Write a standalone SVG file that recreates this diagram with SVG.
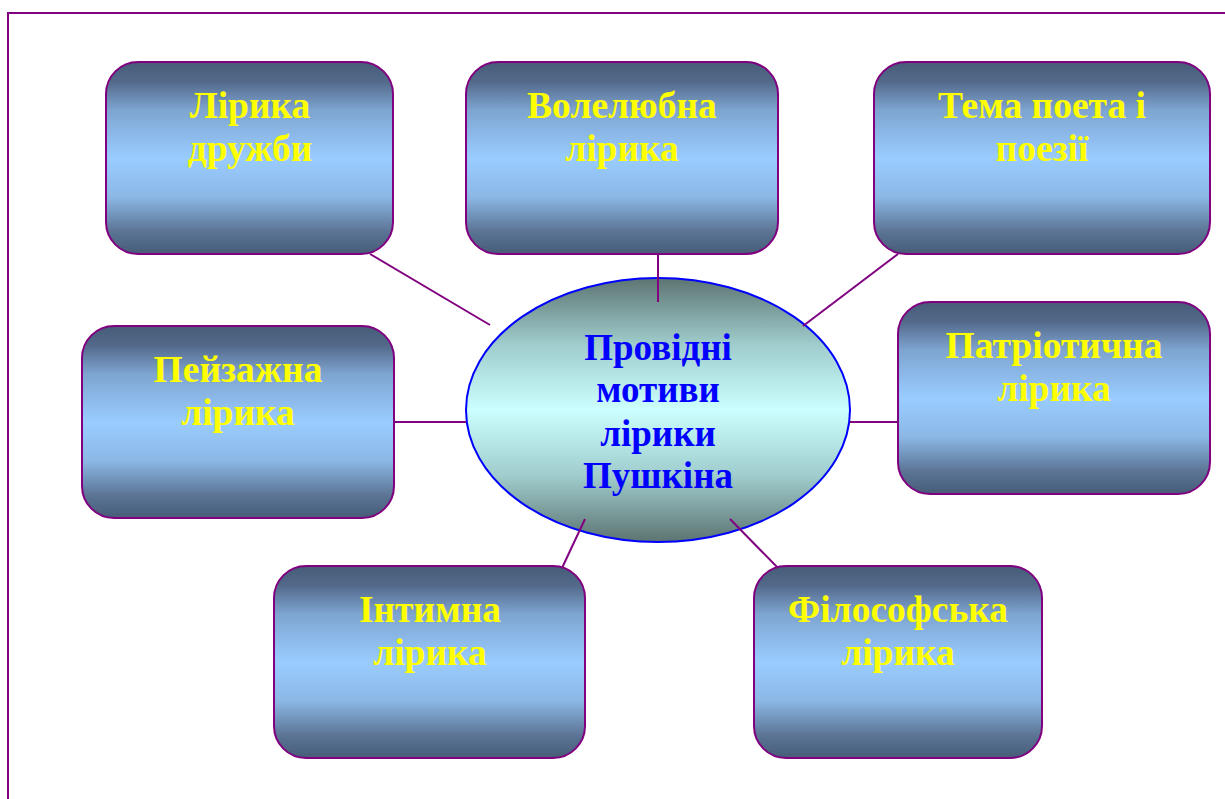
<svg xmlns="http://www.w3.org/2000/svg" width="1225" height="799" viewBox="0 0 1225 799">
<defs>
<linearGradient id="gb" x1="0" y1="0" x2="0" y2="1">
<stop offset="0" stop-color="#465c78"/>
<stop offset="0.1" stop-color="#52698a"/>
<stop offset="0.25" stop-color="#7ea4d0"/>
<stop offset="0.5" stop-color="#99ccff"/>
<stop offset="0.7" stop-color="#8cb8e6"/>
<stop offset="0.88" stop-color="#5c7596"/>
<stop offset="1" stop-color="#465c78"/>
</linearGradient>
<linearGradient id="ge" x1="0" y1="0" x2="0" y2="1">
<stop offset="0" stop-color="#5c7472"/>
<stop offset="0.25" stop-color="#9fcccc"/>
<stop offset="0.5" stop-color="#ccffff"/>
<stop offset="0.75" stop-color="#9fcccc"/>
<stop offset="1" stop-color="#5c7472"/>
</linearGradient>
<style>
.box{fill:url(#gb);stroke:#800080;stroke-width:2}
.t{font-family:"Liberation Serif","Times New Roman",serif;font-weight:bold;font-size:37.5px;fill:#ffff00;text-anchor:middle}
.c{font-family:"Liberation Serif","Times New Roman",serif;font-weight:bold;font-size:37px;fill:#0000ff;text-anchor:middle}
.ln{stroke:#800080;stroke-width:2;fill:none}
</style>
</defs>
<rect x="0" y="0" width="1225" height="799" fill="#ffffff"/>
<rect x="8" y="13" width="1240" height="820" fill="none" stroke="#800080" stroke-width="2"/>
<g id="center">
<ellipse cx="658" cy="410" rx="192" ry="132" fill="url(#ge)" stroke="#0000ff" stroke-width="2"/>
<text class="c" x="658" y="360">Провідні</text>
<text class="c" x="658" y="402">мотиви</text>
<text class="c" x="658" y="446">лірики</text>
<text class="c" x="658" y="488">Пушкіна</text>
</g>
<g id="connectors">
<line class="ln" x1="370" y1="254" x2="490" y2="325"/>
<line class="ln" x1="658" y1="254" x2="658" y2="302"/>
<line class="ln" x1="898" y1="254" x2="803" y2="326"/>
<line class="ln" x1="394" y1="422" x2="466" y2="422"/>
<line class="ln" x1="850" y1="422" x2="898" y2="422"/>
<line class="ln" x1="585" y1="519" x2="562" y2="568"/>
<line class="ln" x1="730" y1="519" x2="778" y2="568"/>
</g>
<g id="n1">
<rect class="box" x="106" y="62" width="287" height="192" rx="32"/>
<text class="t" x="250" y="118">Лірика</text>
<text class="t" x="250" y="161">дружби</text>
</g>
<g id="n2">
<rect class="box" x="466" y="62" width="312" height="192" rx="32"/>
<text class="t" x="622" y="118">Волелюбна</text>
<text class="t" x="622" y="161">лірика</text>
</g>
<g id="n3">
<rect class="box" x="874" y="62" width="336" height="192" rx="32"/>
<text class="t" x="1042" y="118">Тема поета і</text>
<text class="t" x="1042" y="161">поезії</text>
</g>
<g id="n4">
<rect class="box" x="82" y="326" width="312" height="192" rx="32"/>
<text class="t" x="238" y="382">Пейзажна</text>
<text class="t" x="238" y="425">лірика</text>
</g>
<g id="n5">
<rect class="box" x="898" y="302" width="312" height="192" rx="32"/>
<text class="t" x="1054" y="358">Патріотична</text>
<text class="t" x="1054" y="401">лірика</text>
</g>
<g id="n6">
<rect class="box" x="274" y="566" width="311" height="192" rx="32"/>
<text class="t" x="430" y="622">Інтимна</text>
<text class="t" x="430" y="665">лірика</text>
</g>
<g id="n7">
<rect class="box" x="754" y="566" width="288" height="192" rx="32"/>
<text class="t" x="898" y="622">Філософська</text>
<text class="t" x="898" y="665">лірика</text>
</g>
</svg>
